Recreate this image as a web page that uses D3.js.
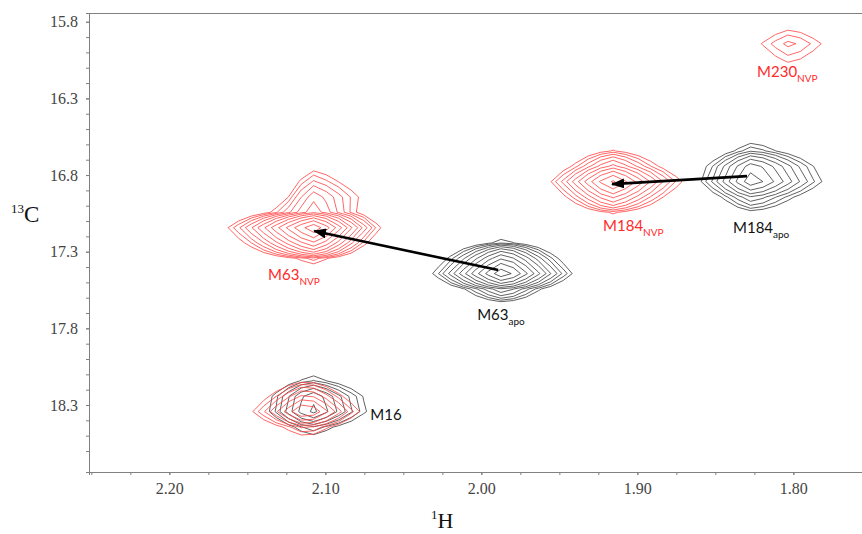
<!DOCTYPE html>
<html>
<head>
<meta charset="utf-8">
<script src="https://cdn.jsdelivr.net/npm/d3@7"></script>
<style>
body { margin: 0; background: #fff; }
svg { display: block; }
.lbl { font-family: Lato, "Open Sans", sans-serif; font-size: 15px; }
</style>
</head>
<body>
<svg id="chart" width="862" height="534"></svg>
<script>
// tick labels
var xTicks = [2.20, 2.10, 2.00, 1.90, 1.80];
var yTicks = [15.8, 16.3, 16.8, 17.3, 17.8, 18.3];

// apo spectrum (black) : peak centre 1H / 13C (ppm), number of contour levels,
// reach of outer contour [left, right, up, down] in ppm
var apoNames  = ["M184", "M63", "M16"];
var apoH      = [1.8265, 1.986, 2.109];
var apoC      = [16.807, 17.42, 18.30];
var apoLevels = [9, 12, 8];
var apoReach  = [[0.035, 0.048, 0.20, 0.22], [0.047, 0.046, 0.19, 0.19], [0.030, 0.040, 0.18, 0.18]];

// NVP spectrum (red), the "" peak is the shoulder above M63
var nvpNames  = ["M230", "M184", "M63", "", "M16"];
var nvpH      = [1.8021, 1.9162, 2.1072, 2.1085, 2.1124];
var nvpC      = [15.952, 16.859, 17.165, 16.937, 18.333];
var nvpLevels = [3, 10, 13, 5, 8];
var nvpReach  = [[0.019, 0.0205, 0.098, 0.111], [0.040, 0.0455, 0.22, 0.19], [0.058, 0.044, 0.17, 0.196],
                 [0.014, 0.029, 0.157, 0.13], [0.0346, 0.0346, 0.18, 0.15]];

// shifts drawn as arrows apo -> NVP
var shifted = ["M184", "M63"];

var svg = d3.select("#chart");
var ml = 89, mr = 862, mt = 13, mb = 472;

var x = d3.scaleLinear().domain([2.2515, 1.756]).range([ml, mr]);
var y = d3.scaleLinear().domain([15.743, 18.737]).range([mt, mb]);

// axes
svg.append("g").attr("transform", "translate(0," + mb + ")")
	.call(d3.axisBottom(x).tickValues(d3.range(2.25, 1.79, -0.025)).tickSize(3).tickFormat(""));
svg.append("g").attr("transform", "translate(0," + mb + ")")
	.call(d3.axisBottom(x).tickValues(xTicks).tickSize(3).tickPadding(8).tickFormat(d3.format(".2f")))
	.attr("font-family", "Liberation Serif").attr("font-size", 16);
svg.append("g").attr("transform", "translate(" + ml + ",0)")
	.call(d3.axisLeft(y).tickValues(d3.range(15.8, 18.65, 0.1)).tickSize(3).tickFormat(""));
svg.append("g").attr("transform", "translate(" + ml + ",0)")
	.call(d3.axisLeft(y).tickValues(yTicks).tickSize(3).tickPadding(8).tickFormat(d3.format(".1f")))
	.attr("font-family", "Liberation Serif").attr("font-size", 16);
svg.selectAll(".domain, .tick line").attr("stroke", "#808080");
svg.selectAll(".tick text").attr("fill", "#444");
svg.append("line").attr("x1", ml).attr("x2", mr).attr("y1", mt + 0.5).attr("y2", mt + 0.5)
	.attr("stroke", "#808080");

// contour grid
var base = 1.3, shape = 1.3;
var stepH = 0.008, stepC = 0.1;
var h0 = x.domain()[0], c0 = y.domain()[0];
var nx = Math.ceil((x.domain()[0] - x.domain()[1]) / stepH) + 2;
var ny = Math.ceil((y.domain()[1] - y.domain()[0]) / stepC) + 2;

function gridValues(H, C, levels, reach){
	var values = new Array(nx * ny).fill(0);
	for (var j = 0; j < ny; j++){
		for (var i = 0; i < nx; i++){
			var h = h0 - i * stepH, c = c0 + j * stepC, v = 0;
			for (var k = 0; k < H.length; k++){
				var amp = Math.pow(base, levels[k] - 0.5);
				var u = Math.abs(h - H[k]) / (h > H[k] ? reach[k][0] : reach[k][1]);
				var w = Math.abs(c - C[k]) / (c < C[k] ? reach[k][2] : reach[k][3]);
				v += Math.pow(amp, 1 - (Math.pow(u, shape) + Math.pow(w, shape)));
			}
			values[j * nx + i] = v;
		}
	}
	return values;
}

var proj = d3.geoTransform({
	point: function(px, py){
		this.stream.point(x(h0 - (px - 0.5) * stepH), y(c0 + (py - 0.5) * stepC));
	}
});
var path = d3.geoPath(proj);

function drawSpectrum(H, C, levels, reach, colour){
	var thresholds = d3.range(0, d3.max(levels)).map(function(k){ return Math.pow(base, k); });
	var contours = d3.contours().size([nx, ny]).thresholds(thresholds)(gridValues(H, C, levels, reach));
	svg.append("g").selectAll("path")
		.data(contours)
		.enter()
		.append("path")
		.attr("d", path)
		.attr("fill", "none")
		.attr("stroke", colour)
		.attr("stroke-width", 0.8)
		.attr("stroke-linejoin", "round");
}

drawSpectrum(apoH, apoC, apoLevels, apoReach, "#3a3a3a");
drawSpectrum(nvpH, nvpC, nvpLevels, nvpReach, "#ff4040");

// arrows
svg.append("defs").append("marker")
	.attr("id", "head")
	.attr("markerUnits", "userSpaceOnUse")
	.attr("markerWidth", 14).attr("markerHeight", 10)
	.attr("refX", 12).attr("refY", 5)
	.attr("orient", "auto")
	.append("path").attr("d", "M0,0L13,5L0,10Z").attr("fill", "#000");

svg.append("g").selectAll("line")
	.data(shifted)
	.enter()
	.append("line")
	.attr("x1", function(d){ return x(apoH[apoNames.indexOf(d)]) - 5; })
	.attr("y1", function(d){ return y(apoC[apoNames.indexOf(d)]); })
	.attr("x2", function(d){ return x(nvpH[nvpNames.indexOf(d)]); })
	.attr("y2", function(d){ return y(nvpC[nvpNames.indexOf(d)]); })
	.attr("stroke", "#000")
	.attr("stroke-width", 2.6)
	.attr("marker-end", "url(#head)");

// peak labels, offset in px from the peak centre
var labels = [
	{set: "nvp", name: "M230", sub: "NVP", dx: -33, dy: 32},
	{set: "nvp", name: "M184", sub: "NVP", dx: -9, dy: 47},
	{set: "apo", name: "M184", sub: "apo", dx: -19, dy: 57},
	{set: "nvp", name: "M63", sub: "NVP", dx: -46, dy: 49},
	{set: "apo", name: "M63", sub: "apo", dx: -26, dy: 50},
	{set: "apo", name: "M16", sub: "", dx: 59, dy: 15}
];

var lab = svg.append("g").selectAll("text")
	.data(labels)
	.enter()
	.append("text")
	.attr("class", "lbl")
	.attr("x", function(d){
		var i = d.set == "apo" ? apoNames.indexOf(d.name) : nvpNames.indexOf(d.name);
		return x(d.set == "apo" ? apoH[i] : nvpH[i]) + d.dx;
	})
	.attr("y", function(d){
		var i = d.set == "apo" ? apoNames.indexOf(d.name) : nvpNames.indexOf(d.name);
		return y(d.set == "apo" ? apoC[i] : nvpC[i]) + d.dy;
	})
	.attr("fill", function(d){ return d.set == "apo" ? "#111" : "#ff2a2a"; });
lab.append("tspan").text(function(d){ return d.name; });
lab.append("tspan").attr("dy", 5).attr("font-size", 10).text(function(d){ return d.sub; });

// axis titles
var ty = svg.append("text").attr("x", 11).attr("y", 222)
	.attr("font-family", "Liberation Serif, serif").attr("fill", "#111");
ty.append("tspan").attr("font-size", 13).attr("dy", -9).text("13");
ty.append("tspan").attr("font-size", 23).attr("dy", 9).text("C");

var tx = svg.append("text").attr("x", 431).attr("y", 528)
	.attr("font-family", "Liberation Serif, serif").attr("fill", "#111");
tx.append("tspan").attr("font-size", 13).attr("dy", -9).text("1");
tx.append("tspan").attr("font-size", 22).attr("dy", 9).text("H");
</script>
</body>
</html>
